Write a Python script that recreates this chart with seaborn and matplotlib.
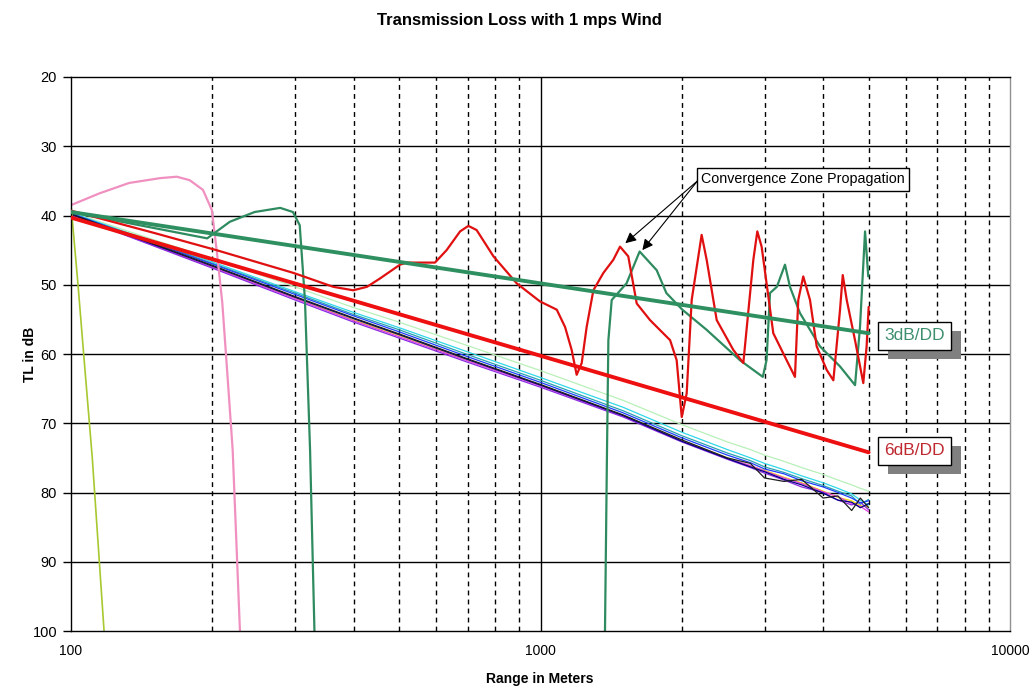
import numpy as np
import pandas as pd
import matplotlib
matplotlib.use("Agg")
import matplotlib.pyplot as plt
import matplotlib.transforms as mtransforms
from matplotlib.patches import Rectangle
from matplotlib.ticker import FixedLocator, NullFormatter
import seaborn as sns

# ---------------- data ----------------
title = "Transmission Loss with 1 mps Wind"
x_label = "Range in Meters"
y_label = "TL in dB"
x_ticks = [100, 1000, 10000]
x_tick_labels = ["100", "1000", "10000"]
y_ticks = [20, 30, 40, 50, 60, 70, 80, 90, 100]

# spreading-loss reference lines
ref_range = [100, 5000]
ref_3db = [39.5, 57.0]
ref_6db = [40.3, 74.2]

# bundle of near-identical model runs
bundle_range = [100, 150, 200, 300, 400, 500, 700, 1000, 1500, 2000, 2500,
                2800, 3000, 3300, 3600, 4000, 4300, 4600, 4800, 5000]
bundle_black = [39.8, 44.1, 47.2, 51.7, 54.8, 57.1, 60.7, 64.4, 68.8, 72.4, 75.0,
                75.8, 77.9, 78.4, 78.1, 80.8, 80.5, 82.6, 80.8, 82.2]
bundle_navy = [39.8, 44.2, 47.3, 51.8, 54.9, 57.2, 60.8, 64.5, 68.9, 72.6, 75.1,
               76.3, 77.0, 78.1, 78.9, 80.1, 81.1, 81.4, 82.2, 81.6]
bundle_blue = [39.7, 44.0, 47.0, 51.4, 54.5, 56.8, 60.4, 64.1, 68.5, 72.1, 74.6,
               75.7, 76.6, 77.3, 78.3, 79.2, 80.0, 80.8, 81.5, 81.2]
bundle_purple = [39.9, 44.4, 47.6, 52.2, 55.4, 57.7, 61.2, 64.8, 69.1, 72.7, 75.2,
                 76.4, 77.2, 78.2, 79.2, 80.0, 81.1, 81.8, 81.4, 82.5]
bundle_magenta = [39.9, 44.3, 47.5, 52.0, 55.2, 57.5, 61.0, 64.6, 69.0, 72.6, 75.1,
                  76.1, 76.9, 77.9, 78.7, 79.9, 80.6, 81.6, 82.0, 82.8]
bundle_cyan = [39.6, 43.8, 46.7, 51.0, 54.0, 56.2, 59.7, 63.4, 67.7, 71.3, 73.8,
               75.0, 75.8, 76.7, 77.6, 78.6, 79.4, 80.2, 81.1, 81.8]
bundle_teal = [39.7, 43.9, 46.9, 51.2, 54.3, 56.5, 60.1, 63.8, 68.2, 71.8, 74.3,
               75.4, 76.3, 77.1, 78.0, 79.0, 79.8, 80.5, 81.7, 81.0]
bundle_yellow = [39.8, 44.2, 47.4, 51.9, 55.1, 57.3, 60.9, 64.5, 68.9, 72.5, 75.0,
                 76.2, 76.8, 77.8, 78.6, 79.8, 80.7, 81.2, 81.9, 82.1]
bundle_palegreen = [39.5, 43.5, 46.2, 50.3, 53.3, 55.4, 58.8, 62.4, 66.7, 70.2, 72.7,
                    73.8, 74.6, 75.5, 76.4, 77.4, 78.2, 78.9, 79.4, 79.8]

# yellow-green run falling off immediately
yg_range = [100, 103.5, 107, 111, 117.6]
yg_tl = [38.5, 50.0, 62.0, 75.0, 100.0]

# pink run
pink_range = [100, 115, 133, 155, 168, 179, 191, 199.5, 204.6, 210, 215, 221, 229]
pink_tl = [38.5, 36.8, 35.3, 34.6, 34.4, 34.9, 36.3, 39.2, 45.4, 52.6, 62.3, 73.9, 100.0]

# green run with early bump and cut-off
green1_range = [100, 150, 195, 218, 246, 279, 297, 307, 315, 323, 330]
green1_tl = [39.5, 41.8, 43.3, 40.9, 39.5, 38.9, 39.5, 41.4, 52.2, 73.9, 100.0]

# green run with convergence zones
green2_range = [1372, 1385, 1395, 1418, 1525, 1626, 1768, 1854, 2005, 2258, 2660,
                2975, 3030, 3082, 3187, 3317, 3399, 3570, 3938, 4345, 4677, 4792,
                4912, 4990]
green2_tl = [100.0, 75.0, 58.0, 52.2, 49.8, 45.2, 47.9, 51.2, 53.6, 56.5, 60.9,
             63.3, 60.9, 51.2, 50.3, 47.1, 50.3, 54.1, 58.9, 61.8, 64.5, 56.1,
             42.3, 48.8]

# red run with convergence zones
red_range = [100, 150, 204, 298, 362, 399, 427, 455, 502, 519, 596, 631, 674, 702,
             731, 794, 890, 997, 1083, 1128, 1165, 1194, 1224, 1254, 1296, 1361,
             1429, 1477, 1538, 1603, 1711, 1888, 1950, 1999, 2048, 2099, 2204,
             2259, 2373, 2574, 2704, 2840, 2896, 2958, 3132, 3344, 3483, 3540,
             3628, 3750, 3875, 4070, 4205, 4345, 4403, 4490, 4676, 4870, 4950, 5000]
red_tl = [39.3, 42.5, 45.0, 48.3, 50.3, 50.8, 50.3, 49.1, 47.1, 46.8, 46.8, 45.0,
          42.3, 41.5, 42.1, 45.9, 49.8, 52.4, 53.6, 56.1, 59.4, 63.0, 61.3, 56.1,
          50.8, 48.3, 46.4, 44.5, 45.9, 52.7, 55.1, 58.0, 60.9, 69.1, 65.7, 52.2,
          42.8, 46.4, 55.1, 59.4, 61.3, 46.4, 42.3, 44.5, 57.0, 60.9, 63.3, 52.2,
          48.8, 52.2, 58.9, 62.3, 63.8, 53.6, 48.6, 52.2, 58.0, 64.2, 58.9, 53.2]

# ---------------- style ----------------
sns.set_style("white")
plt.rcParams["font.family"] = ["Liberation Sans", "DejaVu Sans"]
plt.rcParams["text.color"] = "black"
plt.rcParams["axes.labelcolor"] = "black"

fig = plt.figure(figsize=(10.31, 6.87), dpi=100)
ax = fig.add_axes([71 / 1031, 1 - 631 / 687, (1010 - 71) / 1031, (631 - 77) / 687])

ax.set_xscale("log")
ax.set_xlim(100, 10000)
ax.set_ylim(100, 20)

# grid
for v in [200, 300, 400, 500, 600, 700, 800, 900, 2000, 3000, 4000, 5000,
          6000, 7000, 8000, 9000]:
    ax.axvline(v, color="black", lw=1.0, ls=(0, (3.5, 3)), zorder=0.5)
ax.axvline(1000, color="black", lw=1.0, zorder=0.5)
for v in y_ticks[1:-1]:
    ax.axhline(v, color="black", lw=1.0, zorder=0.5)


def draw(xs, ys, color, lw, z=2):
    df = pd.DataFrame({"x": xs, "y": ys})
    sns.lineplot(data=df, x="x", y="y", ax=ax, color=color, lw=lw,
                 estimator=None, sort=False, legend=False, zorder=z)


bundle = [
    (bundle_palegreen, "#b8f0b8"),
    (bundle_yellow, "#f0e000"),
    (bundle_cyan, "#30d8e8"),
    (bundle_teal, "#2aa0b0"),
    (bundle_magenta, "#e040e0"),
    (bundle_purple, "#8a2be2"),
    (bundle_blue, "#2040ff"),
    (bundle_navy, "#000080"),
    (bundle_black, "#202020"),
]
for ys, c in bundle:
    draw(bundle_range, ys, c, 0.9)

draw(yg_range, yg_tl, "#a8c830", 1.2)
draw(pink_range, pink_tl, "#f090c0", 1.6)
draw(green1_range, green1_tl, "#2e8b5f", 1.6)
draw(green2_range, green2_tl, "#2e8b5f", 1.6)
draw(red_range, red_tl, "#e01010", 1.6, z=3)
draw(ref_range, ref_6db, "#ee1010", 2.8, z=3)
draw(ref_range, ref_3db, "#2e9060", 2.8, z=4)

# axes / ticks
ax.set_xlabel("")
ax.set_ylabel("")
ax.xaxis.set_major_locator(FixedLocator(x_ticks))
ax.set_xticklabels(x_tick_labels)
ax.xaxis.set_minor_formatter(NullFormatter())
ax.set_yticks(y_ticks)
ax.set_yticklabels([str(v) for v in y_ticks])
ax.tick_params(axis="x", which="major", direction="inout", length=9, width=1,
               pad=5, labelsize=10, colors="black")
ax.tick_params(axis="x", which="minor", length=0)
ax.tick_params(axis="y", which="major", direction="out", length=6, width=1,
               pad=4, labelsize=10.5, colors="black", left=True)
for s in ["left", "bottom", "top"]:
    ax.spines[s].set_color("black")
    ax.spines[s].set_linewidth(1.0)
ax.spines["right"].set_color("#909090")
ax.spines["right"].set_linewidth(1.0)

fig.text(519 / 1031, 1 - 20 / 687, title, ha="center", va="center",
         fontsize=12, fontweight="bold", color="black")
fig.text(540 / 1031, 1 - 679 / 687, x_label, ha="center", va="center",
         fontsize=10, fontweight="bold", color="black")
fig.text(30 / 1031, 1 - 354 / 687, y_label, ha="center", va="center",
         fontsize=10, fontweight="bold", rotation=90, color="black")

# labelled boxes with drop shadow
labels = []
for x, y, text, color in [(5400, 57.4, "3dB/DD", "#3f8f6f"),
                          (5400, 74.0, "6dB/DD", "#c02830")]:
    t = ax.text(x, y, text, ha="left", va="center", fontsize=12.5, color=color,
                bbox=dict(boxstyle="square,pad=0.35", fc="white", ec="black",
                          lw=1.0),
                zorder=7)
    labels.append(t)

ax.text(2200, 34.8, "Convergence Zone Propagation", ha="left", va="center",
        fontsize=10.3, color="black",
        bbox=dict(boxstyle="square,pad=0.3", fc="white", ec="black", lw=1.0),
        zorder=7)
for tx, ty in [(1516, 44.0), (1648, 45.0)]:
    ax.annotate("", xy=(tx, ty), xytext=(2160, 35.0),
                arrowprops=dict(arrowstyle="-|>", color="black", lw=0.8,
                                mutation_scale=16, shrinkA=0, shrinkB=0),
                zorder=7)

fig.canvas.draw()
for t in labels:
    bb = t.get_bbox_patch().get_window_extent()
    ax.add_patch(Rectangle((bb.x0 + 10, bb.y0 - 9), bb.width, bb.height,
                           transform=mtransforms.IdentityTransform(),
                           fc="#808080", ec="none", clip_on=False, zorder=6))

fig.savefig("out.png", dpi=100, facecolor="white")
